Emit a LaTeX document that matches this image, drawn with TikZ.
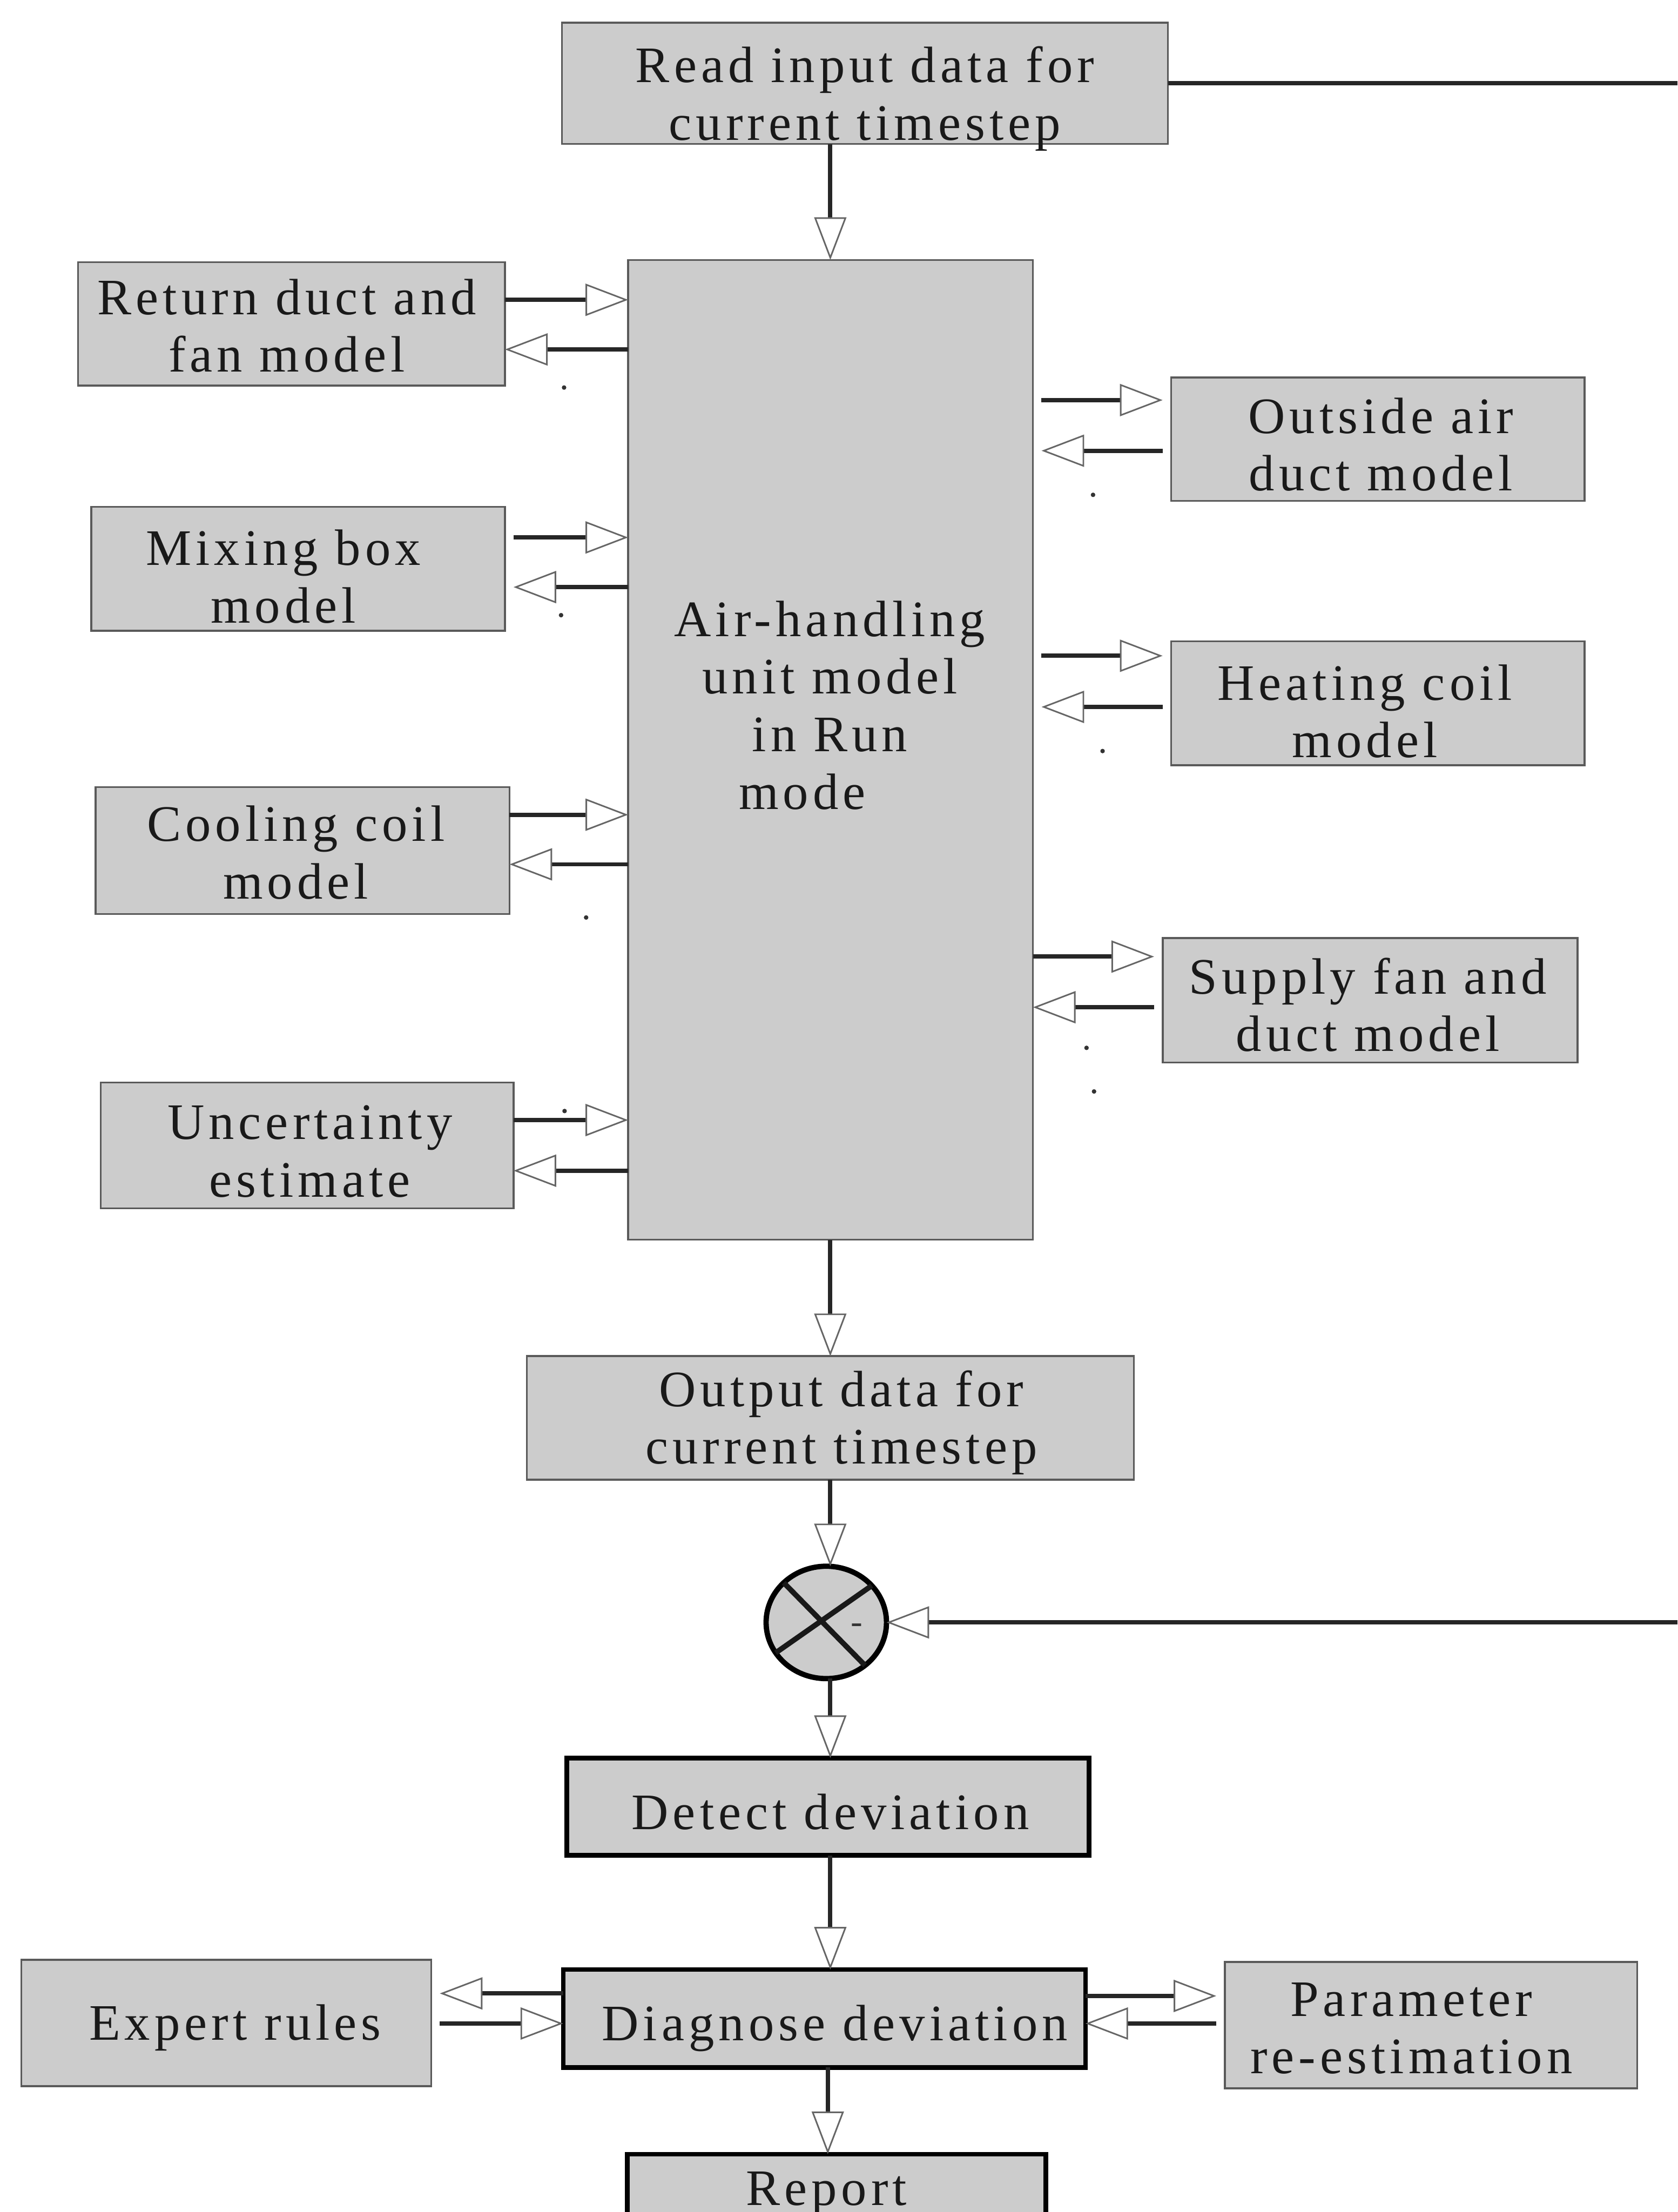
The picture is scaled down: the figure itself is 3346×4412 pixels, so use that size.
\documentclass[tikz,border=0pt]{standalone}
\usepackage{fontspec}
\setmainfont{Liberation Serif}[LetterSpace=8.5]
\usetikzlibrary{arrows.meta,shapes.geometric}
\definecolor{boxfill}{RGB}{204,204,204}
\definecolor{boxline}{RGB}{90,90,90}
\begin{document}
\begin{tikzpicture}[x=0.01cm,y=-0.01cm,
  every node/.style={inner sep=0pt, outer sep=0pt},
  box/.style={rectangle, draw=boxline, line width=1.1pt, fill=boxfill},
  keybox/.style={rectangle, draw=black, line width=2.6pt, fill=boxfill},
  % text nodes are placed by the baseline of their last line
  txt/.style={font=\fontsize{29}{32.7}\selectfont, align=center, anchor=base, text=black!90},
  flow/.style={line width=2.4pt, draw=black!85,
    -{Triangle[length=0.85cm, width=0.64cm, fill=white, color=black!60, line width=0.9pt]}},
  gapend/.style={shorten >=0.17cm},
  gapstart/.style={shorten <=0.17cm},
  speck/.style={fill=black!80}
]
% page
\fill[white] (0,0) rectangle (3346,4412);
\useasboundingbox (0,0) rectangle (3346,4412);

% main column
\node[box, minimum width=12.08cm, minimum height=2.42cm] (read) at (1725,166) {};
\node[txt] (readt) at (1725,279) {Read input data for\\current timestep};

\node[box, minimum width=8.07cm, minimum height=19.53cm] (ahu) at (1656.5,1495.5) {};
\node[txt] (ahut) at (1655,1614) {Air-handling\\unit model\\in Run\hspace*{1.1cm}\\mode\hspace*{1.1cm}};

\coordinate (axis) at (1656,0);

% left components
\node[box, minimum width=8.51cm, minimum height=2.46cm] (ret) at (581.5,646) {};
\node[txt] (rett) at (572,742) {Return duct and\\fan model};
\node[box, minimum width=8.25cm, minimum height=2.47cm] (mix) at (594.5,1134.5) {};
\node[txt] (mixt) at (565,1242) {Mixing box\\model};
\node[box, minimum width=8.25cm, minimum height=2.53cm] (cool) at (603.5,1696.5) {};
\node[txt] (coolt) at (590,1793) {Cooling coil\\model};
\node[box, minimum width=8.23cm, minimum height=2.51cm] (unc) at (612.5,2284.5) {};
\node[txt] (unct) at (618,2387) {Uncertainty\\estimate};

% right components
\node[box, minimum width=8.24cm, minimum height=2.46cm] (oad) at (2748,876) {};
\node[txt] (oadt) at (2754,979) {Outside air\\duct model};
\node[box, minimum width=8.24cm, minimum height=2.47cm] (heat) at (2748,1402.5) {};
\node[txt] (heatt) at (2722,1511) {Heating coil\\model};
\node[box, minimum width=8.27cm, minimum height=2.48cm] (sup) at (2732.5,1995) {};
\node[txt] (supt) at (2728,2097) {Supply fan and\\duct model};

% output and comparison
\node[box, minimum width=12.10cm, minimum height=2.46cm] (outp) at (1656,2828) {};
\node[txt] (outpt) at (1678,2920) {Output data for\\current timestep};

\node[ellipse, draw=black, line width=3pt, fill=boxfill,
      minimum width=2.40cm, minimum height=2.24cm] (sum) at (1648,3236) {};
\draw[line width=3pt, black!90] (sum.137) -- (sum.-48) (sum.39) -- (sum.211);
\node[font=\fontsize{20}{20}\selectfont, text=black!80] (minus) at (1709,3248) {-};

% fault detection and diagnosis
\node[keybox, minimum width=10.41cm, minimum height=1.94cm] (detect) at (1651,3603.5) {};
\node[txt] (detectt) at (1656,3649) {Detect deviation};
\node[keybox, minimum width=10.41cm, minimum height=1.95cm] (diag) at (1644,4026) {};
\node[txt] (diagt) at (1665,4070) {Diagnose deviation};
\node[box, minimum width=8.17cm, minimum height=2.52cm] (expert) at (451.5,4035) {};
\node[txt] (expertt) at (469,4069) {Expert rules};
\node[box, minimum width=8.22cm, minimum height=2.52cm] (param) at (2854,4039) {};
\node[txt] (paramt) at (2815,4136) {Parameter\\re-estimation};
\node[keybox, minimum width=8.34cm, minimum height=1.95cm] (report) at (1668.5,4394) {};
\node[txt] (reportt) at (1648,4398) {Report};

% main flow
\draw[flow] (read.south -| axis) -- (ahu.north -| axis);
\draw[flow] (ahu.south -| axis) -- (outp.north -| axis);
\draw[flow] (outp.south -| axis) -- (sum.north -| axis);
\draw[flow] (sum.south -| axis) -- (detect.north -| axis);
\draw[flow] (detect.south -| axis) -- (diag.north -| axis);
\draw[flow] (diag.south -| detect.north) -- (report.north -| detect.north);

% measured data path from the input block to the comparison
\coordinate (fbout) at (3346,166);
\coordinate (fbin) at (3346,3236);
\draw[line width=2.4pt, black!85] (read.east) -- (fbout);
\draw[flow] (fbin) -- (sum.east);

% exchanges with the left components
\draw[flow] (ret.east |- 0,598) -- (ahu.west |- 0,598);
\draw[flow] (ahu.west |- 0,697) -- (ret.east |- 0,697);
\draw[flow, gapstart] (mix.east |- 0,1072) -- (ahu.west |- 0,1072);
\draw[flow, gapend] (ahu.west |- 0,1171) -- (mix.east |- 0,1171);
\draw[flow] (cool.east |- 0,1625) -- (ahu.west |- 0,1625);
\draw[flow] (ahu.west |- 0,1724) -- (cool.east |- 0,1724);
\draw[flow] (unc.east |- 0,2234) -- (ahu.west |- 0,2234);
\draw[flow] (ahu.west |- 0,2335) -- (unc.east |- 0,2335);

% exchanges with the right components
\draw[flow, gapstart, gapend] (ahu.east |- 0,798) -- (oad.west |- 0,798);
\draw[flow, gapstart, gapend] (oad.west |- 0,899) -- (ahu.east |- 0,899);
\draw[flow, gapstart, gapend] (ahu.east |- 0,1308) -- (heat.west |- 0,1308);
\draw[flow, gapstart, gapend] (heat.west |- 0,1410) -- (ahu.east |- 0,1410);
\draw[flow, gapend] (ahu.east |- 0,1908) -- (sup.west |- 0,1908);
\draw[flow, gapstart] (sup.west |- 0,2009) -- (ahu.east |- 0,2009);

% exchanges around the diagnosis
\draw[flow, gapend] (diag.west |- 0,3976) -- (expert.east |- 0,3976);
\draw[flow, gapstart] (expert.east |- 0,4036) -- (diag.west |- 0,4036);
\draw[flow, gapend] (diag.east |- 0,3981) -- (param.west |- 0,3981);
\draw[flow, gapstart] (param.west |- 0,4036) -- (diag.east |- 0,4036);

% small specks beside the connectors
\foreach \px/\py in {1125/773, 1119/1227, 1169/1830, 1126/2216,
                     2180/987, 2199/1498, 2167/2090, 2182/2177}
  \fill[speck] (\px,\py) circle[radius=0.045cm];
\end{tikzpicture}
\end{document}
